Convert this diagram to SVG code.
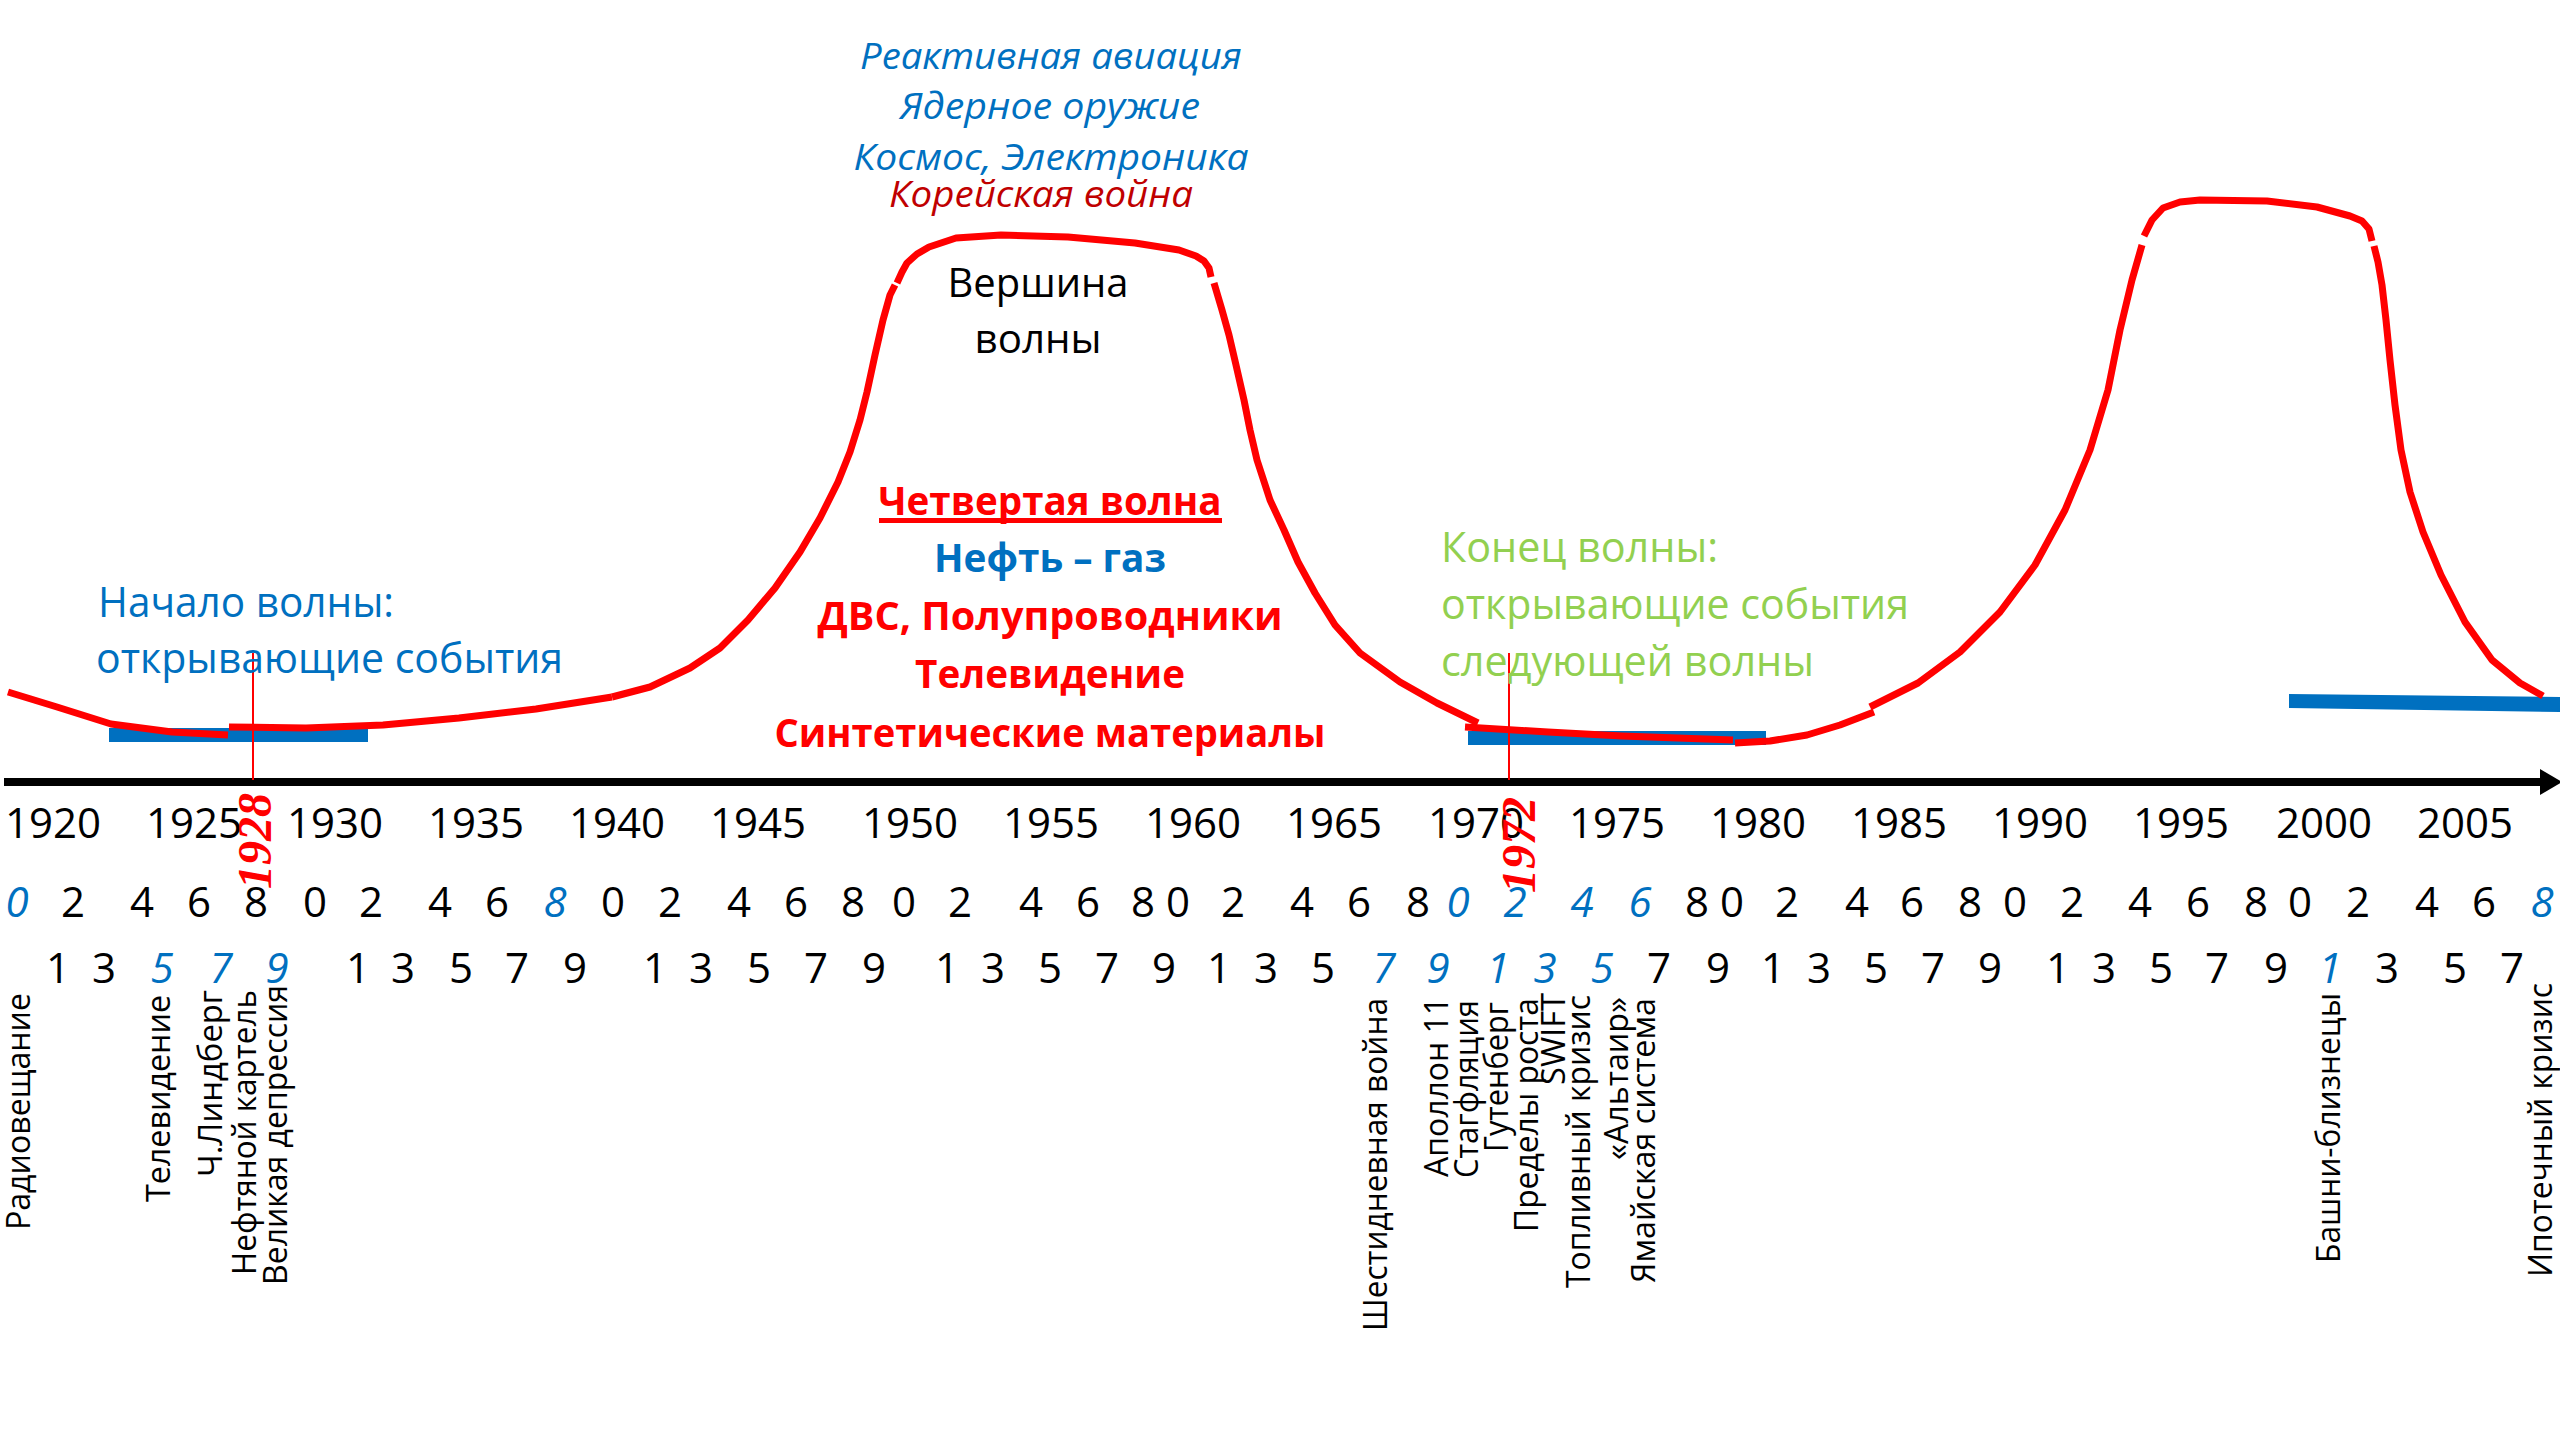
<svg xmlns="http://www.w3.org/2000/svg" width="2560" height="1440" viewBox="0 0 2560 1440">
<defs>
<style>
text{font-family:'Open Sans','Noto Sans','Liberation Sans',sans-serif}
.yr{font-size:42px;fill:#000;text-anchor:middle}
.dg{font-size:42px;fill:#000;text-anchor:middle}
.dgb{font-size:42px;fill:#0070C0;font-style:italic;text-anchor:middle}
.vl{font-size:32px;fill:#000}
.ry{font-family:'Liberation Serif',serif;font-weight:bold;font-style:italic;font-size:48px;fill:#FF0000;text-anchor:middle}
.top{font-size:36px;font-style:italic;fill:#0070C0;text-anchor:middle}
.bold{font-size:39px;font-weight:bold;fill:#FF0000;text-anchor:middle}
.blue-l{font-size:42px;fill:#0070C0}
.green-l{font-size:42px;fill:#92D050}
.wave{fill:none;stroke:#FF0000;stroke-width:7;stroke-linejoin:round}
.bar{fill:#0070C0}
.mark{stroke:#FF0000;stroke-width:2}
</style>
<marker id="arr" markerUnits="userSpaceOnUse" markerWidth="22" markerHeight="26" refX="0" refY="13" orient="auto">
<path d="M0,0 L22,13 L0,26 Z" fill="#000"/>
</marker>
</defs>
<rect width="2560" height="1440" fill="#fff"/>

<g id="bars">
<rect class="bar" x="109" y="728" width="259" height="14"/>
<rect class="bar" x="1468" y="731" width="298" height="14"/>
<polygon class="bar" points="2289,694 2560,697 2560,712 2289,708"/>
</g>

<g id="wave-curve">
<path class="wave" d="M8,692 L57,707 L111,724 L172,732 L228,735"/>
<path class="wave" d="M229,727 L306,728 L383,725 L459,718 L536,709 L612,697"/>
<path class="wave" d="M612,697 L650,687 L690,668 L720,648 L748,620 L775,588 L800,552 L820,518 L838,482 L850,452 L860,420 L867,392 L875,355 L883,320 L890,295 L895,285"/>
<path class="wave" d="M897,283 L902,272 L907,263 L917,254 L929,247 L956,238 L1001,235 L1068,237 L1135,243 L1179,250 L1196,256 L1204,261 L1209,268 L1211,277"/>
<path class="wave" d="M1214,283 L1222,310 L1229,335 L1236,365 L1244,400 L1250,430 L1257,460 L1270,500 L1284,530 L1298,562 L1315,593 L1335,625 L1360,653 L1400,682 L1437,703 L1478,723"/>
<path class="wave" d="M1465,727 L1548,732 L1622,736 L1733,740"/>
<path class="wave" d="M1735,743 L1770,741 L1807,735 L1840,725 L1874,712"/>
<path class="wave" d="M1870,707 L1918,683 L1960,652 L2000,612 L2035,565 L2065,510 L2090,450 L2108,390 L2120,330 L2132,280 L2142,245"/>
<path class="wave" d="M2144,236 L2152,220 L2163,208 L2180,202 L2200,200 L2267,201 L2317,207 L2350,216 L2362,221 L2369,229 L2372,241"/>
<path class="wave" d="M2374,246 L2378,262 L2382,285 L2386,320 L2390,360 L2395,405 L2401,450 L2410,492 L2423,532 L2441,575 L2465,622 L2492,660 L2520,683 L2543,696"/>
</g>

<g id="connectors">
<line x1="4" y1="782" x2="2540" y2="782" stroke="#000" stroke-width="8" marker-end="url(#arr)"/>
<line class="mark" x1="253" y1="653" x2="253" y2="780"/>
<line class="mark" x1="1509" y1="653" x2="1509" y2="780"/>
</g>

<g id="peak-innovations">
<text class="top" x="1051" y="69" textLength="382" lengthAdjust="spacingAndGlyphs">Реактивная авиация</text>
<text class="top" x="1050" y="119" textLength="300" lengthAdjust="spacingAndGlyphs">Ядерное оружие</text>
<text class="top" x="1051" y="170" textLength="395" lengthAdjust="spacingAndGlyphs">Космос, Электроника</text>
<text class="top" x="1041" y="207" textLength="304" lengthAdjust="spacingAndGlyphs" style="fill:#C00000">Корейская война</text>
</g>

<g id="peak-label">
<text x="1038" y="297" style="font-size:40px;text-anchor:middle" textLength="181" lengthAdjust="spacingAndGlyphs">Вершина</text>
<text x="1038" y="353" style="font-size:40px;text-anchor:middle" textLength="127" lengthAdjust="spacingAndGlyphs">волны</text>
</g>

<g id="fourth-wave">
<text class="bold" x="1050" y="515" textLength="343" lengthAdjust="spacingAndGlyphs">Четвертая волна</text>
<rect x="879" y="518" width="343" height="5" fill="#FF0000"/>
<text class="bold" x="1050" y="572" textLength="232" lengthAdjust="spacingAndGlyphs" style="fill:#0070C0">Нефть – газ</text>
<text class="bold" x="1050" y="630" textLength="465" lengthAdjust="spacingAndGlyphs">ДВС, Полупроводники</text>
<text class="bold" x="1050" y="688" textLength="270" lengthAdjust="spacingAndGlyphs">Телевидение</text>
<text class="bold" x="1050" y="747" textLength="551" lengthAdjust="spacingAndGlyphs">Синтетические материалы</text>
</g>

<g id="wave-start">
<text class="blue-l" x="98" y="617" textLength="296" lengthAdjust="spacingAndGlyphs">Начало волны:</text>
<text class="blue-l" x="96" y="673" textLength="467" lengthAdjust="spacingAndGlyphs">открывающие события</text>
</g>

<g id="wave-end">
<text class="green-l" x="1441" y="562" textLength="277" lengthAdjust="spacingAndGlyphs">Конец волны:</text>
<text class="green-l" x="1441" y="619" textLength="468" lengthAdjust="spacingAndGlyphs">открывающие события</text>
<text class="green-l" x="1441" y="676" textLength="373" lengthAdjust="spacingAndGlyphs">следующей волны</text>
</g>

<g id="years">
<text class="yr" x="53" y="838">1920</text>
<text class="yr" x="194" y="838">1925</text>
<text class="yr" x="335" y="838">1930</text>
<text class="yr" x="476" y="838">1935</text>
<text class="yr" x="617" y="838">1940</text>
<text class="yr" x="758" y="838">1945</text>
<text class="yr" x="910" y="838">1950</text>
<text class="yr" x="1051" y="838">1955</text>
<text class="yr" x="1193" y="838">1960</text>
<text class="yr" x="1334" y="838">1965</text>
<text class="yr" x="1476" y="838">1970</text>
<text class="yr" x="1617" y="838">1975</text>
<text class="yr" x="1758" y="838">1980</text>
<text class="yr" x="1899" y="838">1985</text>
<text class="yr" x="2040" y="838">1990</text>
<text class="yr" x="2181" y="838">1995</text>
<text class="yr" x="2324" y="838">2000</text>
<text class="yr" x="2465" y="838">2005</text>
</g>

<g id="even-years">
<text class="dgb" x="17" y="917">0</text>
<text class="dg" x="73" y="917">2</text>
<text class="dg" x="142" y="917">4</text>
<text class="dg" x="199" y="917">6</text>
<text class="dg" x="256" y="917">8</text>
<text class="dg" x="315" y="917">0</text>
<text class="dg" x="371" y="917">2</text>
<text class="dg" x="440" y="917">4</text>
<text class="dg" x="497" y="917">6</text>
<text class="dgb" x="555" y="917">8</text>
<text class="dg" x="613" y="917">0</text>
<text class="dg" x="670" y="917">2</text>
<text class="dg" x="739" y="917">4</text>
<text class="dg" x="796" y="917">6</text>
<text class="dg" x="853" y="917">8</text>
<text class="dg" x="904" y="917">0</text>
<text class="dg" x="960" y="917">2</text>
<text class="dg" x="1031" y="917">4</text>
<text class="dg" x="1088" y="917">6</text>
<text class="dg" x="1143" y="917">8</text>
<text class="dg" x="1178" y="917">0</text>
<text class="dg" x="1233" y="917">2</text>
<text class="dg" x="1302" y="917">4</text>
<text class="dg" x="1359" y="917">6</text>
<text class="dg" x="1418" y="917">8</text>
<text class="dgb" x="1458" y="917">0</text>
<text class="dgb" x="1515" y="917">2</text>
<text class="dgb" x="1582" y="917">4</text>
<text class="dgb" x="1640" y="917">6</text>
<text class="dg" x="1697" y="917">8</text>
<text class="dg" x="1732" y="917">0</text>
<text class="dg" x="1787" y="917">2</text>
<text class="dg" x="1857" y="917">4</text>
<text class="dg" x="1912" y="917">6</text>
<text class="dg" x="1970" y="917">8</text>
<text class="dg" x="2015" y="917">0</text>
<text class="dg" x="2072" y="917">2</text>
<text class="dg" x="2140" y="917">4</text>
<text class="dg" x="2198" y="917">6</text>
<text class="dg" x="2256" y="917">8</text>
<text class="dg" x="2300" y="917">0</text>
<text class="dg" x="2358" y="917">2</text>
<text class="dg" x="2427" y="917">4</text>
<text class="dg" x="2484" y="917">6</text>
<text class="dgb" x="2542" y="917">8</text>
</g>

<g id="odd-years">
<text class="dg" x="58" y="983">1</text>
<text class="dg" x="104" y="983">3</text>
<text class="dgb" x="162" y="983">5</text>
<text class="dgb" x="221" y="983">7</text>
<text class="dgb" x="277" y="983">9</text>
<text class="dg" x="358" y="983">1</text>
<text class="dg" x="403" y="983">3</text>
<text class="dg" x="461" y="983">5</text>
<text class="dg" x="517" y="983">7</text>
<text class="dg" x="575" y="983">9</text>
<text class="dg" x="655" y="983">1</text>
<text class="dg" x="701" y="983">3</text>
<text class="dg" x="759" y="983">5</text>
<text class="dg" x="816" y="983">7</text>
<text class="dg" x="874" y="983">9</text>
<text class="dg" x="947" y="983">1</text>
<text class="dg" x="993" y="983">3</text>
<text class="dg" x="1050" y="983">5</text>
<text class="dg" x="1107" y="983">7</text>
<text class="dg" x="1164" y="983">9</text>
<text class="dg" x="1219" y="983">1</text>
<text class="dg" x="1266" y="983">3</text>
<text class="dg" x="1323" y="983">5</text>
<text class="dgb" x="1384" y="983">7</text>
<text class="dgb" x="1438" y="983">9</text>
<text class="dgb" x="1498" y="983">1</text>
<text class="dgb" x="1545" y="983">3</text>
<text class="dgb" x="1602" y="983">5</text>
<text class="dg" x="1659" y="983">7</text>
<text class="dg" x="1718" y="983">9</text>
<text class="dg" x="1773" y="983">1</text>
<text class="dg" x="1819" y="983">3</text>
<text class="dg" x="1876" y="983">5</text>
<text class="dg" x="1933" y="983">7</text>
<text class="dg" x="1990" y="983">9</text>
<text class="dg" x="2058" y="983">1</text>
<text class="dg" x="2104" y="983">3</text>
<text class="dg" x="2161" y="983">5</text>
<text class="dg" x="2217" y="983">7</text>
<text class="dg" x="2276" y="983">9</text>
<text class="dgb" x="2330" y="983">1</text>
<text class="dg" x="2387" y="983">3</text>
<text class="dg" x="2455" y="983">5</text>
<text class="dg" x="2512" y="983">7</text>
</g>

<g id="key-years">
<text class="ry" transform="translate(271,841) rotate(-90)">1928</text>
<text class="ry" transform="translate(1535,845) rotate(-90)">1972</text>
</g>

<g id="events">
<text class="vl" transform="translate(30,1230) rotate(-90)" textLength="237" lengthAdjust="spacingAndGlyphs">Радиовещание</text>
<text class="vl" transform="translate(170,1202) rotate(-90)" textLength="207" lengthAdjust="spacingAndGlyphs">Телевидение</text>
<text class="vl" transform="translate(222,1177) rotate(-90)" textLength="187" lengthAdjust="spacingAndGlyphs">Ч.Линдберг</text>
<text class="vl" transform="translate(256,1275) rotate(-90)" textLength="285" lengthAdjust="spacingAndGlyphs">Нефтяной картель</text>
<text class="vl" transform="translate(287,1285) rotate(-90)" textLength="300" lengthAdjust="spacingAndGlyphs">Великая депрессия</text>
<text class="vl" transform="translate(1387,1331) rotate(-90)" textLength="333" lengthAdjust="spacingAndGlyphs">Шестидневная война</text>
<text class="vl" transform="translate(1448,1177) rotate(-90)" textLength="180" lengthAdjust="spacingAndGlyphs">Аполлон 11</text>
<text class="vl" transform="translate(1478,1178) rotate(-90)" textLength="178" lengthAdjust="spacingAndGlyphs">Стагфляция</text>
<text class="vl" transform="translate(1508,1152) rotate(-90)" textLength="150" lengthAdjust="spacingAndGlyphs">Гутенберг</text>
<text class="vl" transform="translate(1538,1232) rotate(-90)" textLength="234" lengthAdjust="spacingAndGlyphs">Пределы роста</text>
<text class="vl" transform="translate(1565,1085) rotate(-90)" textLength="92" lengthAdjust="spacingAndGlyphs">SWIFT</text>
<text class="vl" transform="translate(1590,1288) rotate(-90)" textLength="293" lengthAdjust="spacingAndGlyphs">Топливный кризис</text>
<text class="vl" transform="translate(1628,1160) rotate(-90)" textLength="163" lengthAdjust="spacingAndGlyphs">«Альтаир»</text>
<text class="vl" transform="translate(1655,1283) rotate(-90)" textLength="285" lengthAdjust="spacingAndGlyphs">Ямайская система</text>
<text class="vl" transform="translate(2340,1263) rotate(-90)" textLength="270" lengthAdjust="spacingAndGlyphs">Башни-близнецы</text>
<text class="vl" transform="translate(2552,1277) rotate(-90)" textLength="294" lengthAdjust="spacingAndGlyphs">Ипотечный кризис</text>
</g>
</svg>
